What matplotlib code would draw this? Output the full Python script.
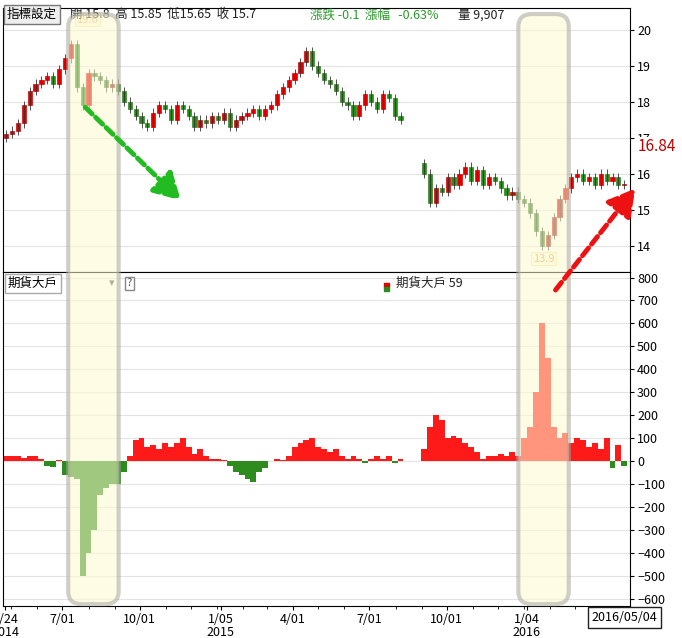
import matplotlib
matplotlib.use("Agg")
import matplotlib.pyplot as plt
import matplotlib.dates as mdates
from matplotlib.patches import FancyBboxPatch, Rectangle, FancyArrowPatch
import numpy as np
import pandas as pd

plt.rcParams['font.family'] = ['Noto Sans CJK TC', 'DejaVu Sans']

weeks = pd.date_range('2014-04-25', '2016-04-29', freq='W-FRI')

closes = [17.1,
          17.2, 17.4, 17.9, 18.3, 18.5,
          18.6, 18.7, 18.5, 18.9,
          19.2, 19.6, 18.4, 17.9,
          18.8, 18.7, 18.6, 18.4, 18.5,
          18.3, 18.0, 17.8, 17.6,
          17.4, 17.3, 17.7, 17.9, 17.8,
          17.5, 17.9, 17.8, 17.6,
          17.3, 17.5, 17.4, 17.6,
          17.5, 17.7, 17.3, 17.5, 17.6,
          17.7, 17.8, 17.6, 17.8,
          17.9, 18.2, 18.4, 18.6,
          18.8, 19.1, 19.4, 19.0,
          18.8, 18.6, 18.5, 18.3, 18.0,
          17.9, 17.6, 17.9, 18.2,
          18.0, 17.8, 18.2, 18.1, 17.6,
          17.5, np.nan, np.nan, np.nan,
          16.0, 15.2, 15.6, 15.5,
          15.9, 15.7, 16.0, 16.2, 15.8,
          16.1, 15.7, 15.9, 15.8,
          15.6, 15.4, 15.5, 15.3,
          15.2, 14.9, 14.4, 14.0, 14.3,
          14.8, 15.3, 15.6, 15.9,
          16.0, 15.8, 15.9, 15.7,
          16.0, 15.8, 15.9, 15.7, 15.7]

big_players = [20,
               20, 20, 15, 20, 20,
               10, -20, -25, 5,
               -60, -70, -80, -500,
               -400, -300, -150, -120, -100,
               -100, -50, 20, 90,
               100, 60, 70, 50, 80,
               60, 80, 100, 60,
               30, 50, 20, 10,
               10, 5, -20, -50, -60,
               -80, -90, -50, -30,
               0, 10, 5, 20,
               60, 80, 90, 100,
               60, 50, 40, 50, 20,
               10, 20, 10, -10,
               10, 20, 10, 20, -10,
               10, 0, 0, 0,
               50, 150, 200, 180,
               100, 110, 100, 80, 60,
               40, 10, 20, 20,
               30, 20, 40, 20,
               100, 150, 300, 600, 450,
               150, 100, 120, 80,
               100, 90, 60, 80,
               50, 100, -30, 70, -20]

closes = np.array(closes)
big_players = np.array(big_players)
opens = np.concatenate([[17.0], closes[:-1]])
opens = np.where(np.isnan(opens), closes + 0.3, opens)

fig = plt.figure(figsize=(6.82, 6.38), dpi=100)
ax1 = fig.add_axes([0.004, 0.574, 0.92, 0.414])
ax2 = fig.add_axes([0.004, 0.050, 0.92, 0.524], sharex=ax1)

x = mdates.date2num(weeks)
w = 5
for xi, o, c in zip(x, opens, closes):
    if np.isnan(c):
        continue
    col = '#e00000' if c >= o else '#2a8a1a'
    ax1.vlines(xi, min(o, c) - 0.12, max(o, c) + 0.12, color='#333333', lw=0.6)
    ax1.add_patch(Rectangle((xi - w / 2, min(o, c)), w, max(abs(c - o), 0.03),
                            facecolor=col, edgecolor=col, lw=0.5))

colors = ['#ff1a1a' if v >= 0 else '#2e8b1e' for v in big_players]
ax2.bar(x, big_players, width=7, color=colors, align='center')

xmin = mdates.date2num(pd.Timestamp('2014-04-21'))
xmax = mdates.date2num(pd.Timestamp('2016-05-06'))
ax1.set_xlim(xmin, xmax)
ax1.set_ylim(13.28, 20.61)
ax2.set_ylim(-633, 825)

for ax in (ax1, ax2):
    ax.yaxis.tick_right()
    ax.grid(axis='y', color='#e4e4e4', lw=0.8)
    ax.set_axisbelow(True)
    ax.tick_params(labelsize=9, length=3, pad=2)
ax1.set_yticks([14, 15, 16, 17, 18, 19, 20])
ax1.tick_params(axis='x', length=0, labelbottom=False)
ax2.set_yticks(range(-600, 801, 100))

tick_dates = ['2014-04-24', '2014-07-01', '2014-10-01', '2015-01-05', '2015-04-01',
              '2015-07-01', '2015-10-01', '2016-01-04']
tick_labels = ['4/24\n2014', '7/01', '10/01', '1/05\n2015', '4/01', '7/01', '10/01', '1/04\n2016']
ax2.set_xticks(mdates.date2num(pd.to_datetime(tick_dates)))
ax2.set_xticklabels(tick_labels, fontsize=9, linespacing=1.0)
ax2.xaxis.set_minor_locator(mdates.MonthLocator())
ax2.tick_params(axis='x', which='minor', length=2)

# header
fig.text(0.010, 0.977, '指標設定', fontsize=9, va='center',
         bbox=dict(boxstyle='square,pad=0.25', fc='#eeeeee', ec='#777777'))
fig.text(0.103, 0.977, '開 15.8  高 15.85  低15.65  收 15.7', fontsize=9, va='center', color='#222222')
fig.text(0.455, 0.977, '漲跌 -0.1  漲幅   -0.63%', fontsize=9, va='center', color='#2a9a2a')
fig.text(0.672, 0.977, '量 9,907', fontsize=9, va='center', color='#222222')

# annotations
ax1.text(0.135, 0.955, '19.6', transform=ax1.transAxes, fontsize=8, color='#e8a080', ha='center', va='center',
         bbox=dict(boxstyle='square,pad=0.15', fc='#fffbe8', ec='#f0e0a0', lw=0.6))
ax1.text(0.862, 0.05, '13.9', transform=ax1.transAxes, fontsize=8, color='#c8a070', ha='center', va='center',
         bbox=dict(boxstyle='square,pad=0.15', fc='#fffbe8', ec='#f0e0a0', lw=0.6))
fig.text(0.935, 0.770, '16.84', fontsize=11, color='#c00000', va='center', zorder=7,
         bbox=dict(boxstyle='square,pad=0.1', fc='white', ec='none'))

ax2.text(0.008, 0.965, '期貨大戶', transform=ax2.transAxes, fontsize=9, va='center',
         bbox=dict(boxstyle='square,pad=0.25', fc='white', ec='#aaaaaa'))
ax2.text(0.17, 0.965, '▾', transform=ax2.transAxes, fontsize=8, va='center', color='#555555')
ax2.text(0.198, 0.965, '?', transform=ax2.transAxes, fontsize=8, va='center', color='#555555',
         bbox=dict(boxstyle='square,pad=0.15', fc='white', ec='#888888'))
ax2.add_patch(Rectangle((0.607, 0.955), 0.008, 0.012, transform=ax2.transAxes, color='#e00000'))
ax2.add_patch(Rectangle((0.607, 0.943), 0.008, 0.012, transform=ax2.transAxes, color='#2a8a1a'))
ax2.text(0.627, 0.965, '期貨大戶 59', transform=ax2.transAxes, fontsize=9, va='center', color='#222222')
fig.text(0.868, 0.032, '2016/05/04', fontsize=9, va='center',
         bbox=dict(boxstyle='square,pad=0.3', fc='white', ec='#222222'))

# highlight boxes
for x0 in (0.100, 0.760):
    fig.patches.append(FancyBboxPatch((x0, 0.053), 0.074, 0.925, boxstyle='round,pad=0,rounding_size=0.02',
                                      transform=fig.transFigure, fc='#fffbd0', ec='#a8a8a0', lw=3, alpha=0.55,
                                      zorder=5))

# arrows
fig.patches.append(FancyArrowPatch((0.122, 0.835), (0.268, 0.683), transform=fig.transFigure,
                   arrowstyle='-|>,head_length=16,head_width=9', color='#22bb22', lw=3.5, ls=(0, (2, 1)), zorder=6))
fig.patches.append(FancyArrowPatch((0.812, 0.542), (0.934, 0.708), transform=fig.transFigure,
                   arrowstyle='-|>,head_length=16,head_width=9', color='#ee1111', lw=3.5, ls=(0, (2, 1)), zorder=6))

fig.savefig('out.png', dpi=100)
